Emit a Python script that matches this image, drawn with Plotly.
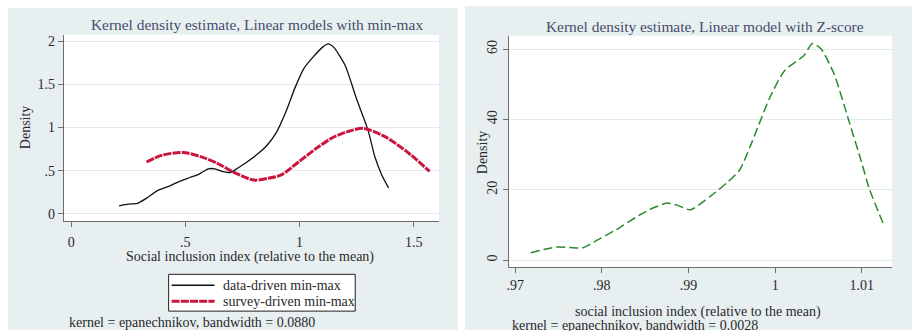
import plotly.graph_objects as go

# ---- data ---------------------------------------------------------------
# Left panel: kernel densities of the min-max linear models
data_driven_x = [0.21, 0.25, 0.29, 0.33, 0.38, 0.43, 0.47, 0.52, 0.56, 0.60,
                 0.63, 0.66, 0.70, 0.73, 0.77, 0.82, 0.86, 0.90, 0.94, 0.98,
                 1.02, 1.06, 1.10, 1.125, 1.15, 1.20, 1.25, 1.30, 1.33, 1.36, 1.39]
data_driven_y = [0.09, 0.11, 0.12, 0.18, 0.27, 0.32, 0.37, 0.42, 0.46, 0.52,
                 0.52, 0.49, 0.48, 0.53, 0.60, 0.70, 0.80, 0.95, 1.18, 1.46,
                 1.69, 1.82, 1.93, 1.97, 1.93, 1.72, 1.33, 0.97, 0.66, 0.45, 0.30]

survey_driven_x = [0.33, 0.40, 0.49, 0.57, 0.64, 0.72, 0.80, 0.86, 0.92, 1.00,
                   1.08, 1.15, 1.22, 1.28, 1.37, 1.47, 1.57]
survey_driven_y = [0.60, 0.68, 0.71, 0.66, 0.585, 0.47, 0.39, 0.41, 0.45, 0.61,
                   0.77, 0.89, 0.96, 0.99, 0.90, 0.72, 0.49]

# Right panel: kernel density of the Z-score linear model
zscore_x = [0.9718, 0.9733, 0.9748, 0.9763, 0.9778, 0.9794, 0.9817, 0.9844,
            0.9859, 0.9875, 0.9886, 0.9902, 0.9925, 0.9944, 0.9959, 0.9971,
            0.9994, 1.0011, 1.0033, 1.0043, 1.0053, 1.0068, 1.0086, 1.0099,
            1.0109, 1.0126]
zscore_y = [2.1, 3.0, 3.7, 3.6, 3.5, 5.6, 8.7, 12.9, 14.8, 16.2, 15.7, 14.3,
            18.1, 21.9, 25.6, 32.2, 46.3, 53.9, 58.1, 61.6, 60.0, 52.9, 38.8,
            28.4, 20.0, 9.6]

left_xticks = [0, 0.5, 1, 1.5]
left_xlabels = ["0", ".5", "1", "1.5"]
left_yticks = [0, 0.5, 1, 1.5, 2]
left_ylabels = ["0", ".5", "1", "1.5", "2"]
right_xticks = [0.97, 0.98, 0.99, 1.0, 1.01]
right_xlabels = [".97", ".98", ".99", "1", "1.01"]
right_yticks = [0, 20, 40, 60]
right_ylabels = ["0", "20", "40", "60"]

series_names = ["data-driven min-max", "survey-driven min-max"]

# ---- styling ------------------------------------------------------------
W, H = 912, 331
FONT = "Liberation Serif"
PANEL = "#e8eff1"
GRID = "#e3ebee"
AXIS = "#6e6e6e"
TITLE = "#464c6c"
TXT = "#2a2a2a"
BLACK_LINE = dict(color="#111111", width=1.3)
RED_LINE = dict(color="#c8163c", width=3, dash="8px,1.2px")
GREEN_LINE = dict(color="#2b8a2b", width=1.5, dash="9px,4px")


def px(x):
    return x / W


def py(y):
    return 1 - y / H


fig = go.Figure()

fig.add_trace(go.Scatter(x=data_driven_x, y=data_driven_y, mode="lines",
                         name=series_names[0], showlegend=False,
                         line=dict(**BLACK_LINE, shape="spline", smoothing=0.6),
                         xaxis="x", yaxis="y"))
fig.add_trace(go.Scatter(x=survey_driven_x, y=survey_driven_y, mode="lines",
                         name=series_names[1], showlegend=False,
                         line=dict(**RED_LINE, shape="spline", smoothing=0.8),
                         xaxis="x", yaxis="y"))
fig.add_trace(go.Scatter(x=zscore_x, y=zscore_y, mode="lines", showlegend=False,
                         line=dict(**GREEN_LINE, shape="spline", smoothing=0.6),
                         xaxis="x2", yaxis="y2"))

axis_common = dict(showline=True, linecolor=AXIS, linewidth=1, ticks="outside",
                   ticklen=5, tickcolor=AXIS, tickwidth=1, zeroline=False,
                   tickfont=dict(family=FONT, size=14, color=TXT), fixedrange=True)

fig.update_layout(
    width=W, height=H,
    margin=dict(l=0, r=0, t=0, b=0),
    paper_bgcolor="white",
    plot_bgcolor="rgba(0,0,0,0)",
    font=dict(family=FONT, size=14, color=TXT),
    showlegend=False,
    xaxis=dict(domain=[px(62), px(438)], range=[-0.032, 1.611], anchor="y",
               tickvals=left_xticks, ticktext=left_xlabels, showgrid=False,
               ticklabelstandoff=4, **axis_common),
    yaxis=dict(domain=[py(221), py(34)], range=[-0.081, 2.076], anchor="x",
               tickvals=left_yticks, ticktext=left_ylabels, showgrid=True,
               gridcolor=GRID, gridwidth=1, **axis_common),
    xaxis2=dict(domain=[px(507.7), px(891.7)], range=[0.96924, 1.01345], anchor="y2",
                tickvals=right_xticks, ticktext=right_xlabels, showgrid=False,
                ticklabelstandoff=0, **axis_common),
    yaxis2=dict(domain=[py(267.7), py(35)], range=[-1.98, 63.76], anchor="x2",
                tickvals=right_yticks, ticktext=right_ylabels, showgrid=True,
                gridcolor=GRID, gridwidth=1, tickangle=-90, **axis_common),
)

# panel backgrounds, white plot regions and the legend box
shapes = [
    dict(type="rect", xref="paper", yref="paper", x0=px(6), x1=px(456.7),
         y0=0, y1=py(7), fillcolor=PANEL, line=dict(width=0), layer="below"),
    dict(type="rect", xref="paper", yref="paper", x0=px(464), x1=1,
         y0=0, y1=py(5), fillcolor=PANEL, line=dict(width=0), layer="below"),
    dict(type="rect", xref="paper", yref="paper", x0=px(62), x1=px(438),
         y0=py(221), y1=py(34), fillcolor="white", line=dict(width=0), layer="below"),
    dict(type="rect", xref="paper", yref="paper", x0=px(507.7), x1=px(891.7),
         y0=py(267.7), y1=py(35), fillcolor="white", line=dict(width=0), layer="below"),
    dict(type="rect", xref="paper", yref="paper", x0=px(167), x1=px(354),
         y0=py(312), y1=py(275), fillcolor="white",
         line=dict(color="#222222", width=1), layer="above"),
    dict(type="line", xref="paper", yref="paper", x0=px(170), x1=px(213),
         y0=py(286), y1=py(286), line=BLACK_LINE, layer="above"),
    dict(type="line", xref="paper", yref="paper", x0=px(170), x1=px(213),
         y0=py(302), y1=py(302), line=RED_LINE, layer="above"),
]
fig.update_layout(shapes=shapes)


def label(text, x, y, size=14, color=TXT, angle=0, xanchor="center"):
    fig.add_annotation(text=text, x=px(x), y=py(y), xref="paper", yref="paper",
                       showarrow=False, textangle=angle, xanchor=xanchor,
                       yanchor="middle", font=dict(family=FONT, size=size, color=color))


label("Kernel density estimate, Linear models with min-max", 256, 24, size=15.4, color=TITLE)
label("Kernel density estimate, Linear model with Z-score", 704.7, 26, size=15.4, color=TITLE)
label("Density", 23, 127, angle=-90)
label("Density", 481.7, 152.5, angle=-90)
label("Social inclusion index (relative to the mean)", 249, 258)
label("social inclusion index (relative to the mean)", 697.7, 313)
label(series_names[0], 219, 286, xanchor="left")
label(series_names[1], 219, 302, xanchor="left")
label("kernel = epanechnikov, bandwidth = 0.0880", 65, 323, xanchor="left")
label("kernel = epanechnikov, bandwidth = 0.0028", 509, 326, xanchor="left")

fig.write_html("out.html")
